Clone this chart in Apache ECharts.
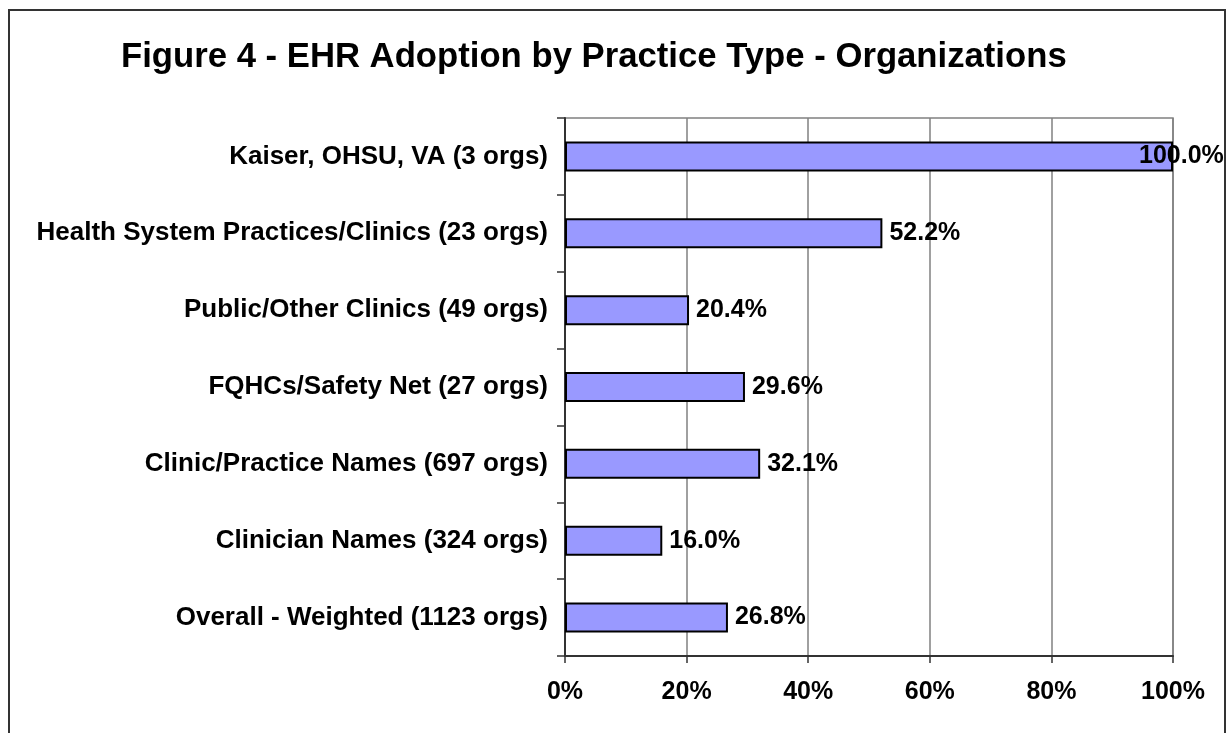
<!DOCTYPE html>
<html>
<head>
<meta charset="utf-8">
<script src="https://cdn.jsdelivr.net/npm/echarts@6/dist/echarts.min.js"></script>
<style>
  html, body { margin: 0; padding: 0; background: #fff; }
  #chart { width: 1228px; height: 733px; }
</style>
</head>
<body>
<div id="chart"></div>
<script>
// 数据
const categories = [
    'Kaiser, OHSU, VA (3 orgs)',
    'Health System Practices/Clinics (23 orgs)',
    'Public/Other Clinics (49 orgs)',
    'FQHCs/Safety Net (27 orgs)',
    'Clinic/Practice Names (697 orgs)',
    'Clinician Names (324 orgs)',
    'Overall - Weighted (1123 orgs)'
];
const adoption = [100.0, 52.2, 20.4, 29.6, 32.1, 16.0, 26.8];
const xTicks = [0, 20, 40, 60, 80, 100];

const myChart = echarts.init(document.getElementById('chart'));

const font = '"Liberation Sans", Arial, sans-serif';

const option = {
    animation: false,
    backgroundColor: '#fff',
    title: {
        text: 'Figure 4 - EHR Adoption by Practice Type - Organizations',
        left: 116,
        top: 35,
        textStyle: { fontFamily: font, fontSize: 34.7, fontWeight: 'bold', color: '#000' }
    },
    graphic: [{
        type: 'rect',
        shape: { x: 9, y: 10, width: 1216, height: 800 },
        style: { fill: 'none', stroke: '#333', lineWidth: 2 },
        silent: true
    }, {
        // 绘图区边框
        type: 'rect',
        shape: { x: 565, y: 118, width: 608, height: 538 },
        style: { fill: 'none', stroke: '#808080', lineWidth: 1.5 },
        silent: true,
        z: -1
    }],
    grid: { left: 565, top: 118, right: 55, bottom: 77 },
    xAxis: {
        type: 'value',
        min: xTicks[0],
        max: xTicks[xTicks.length - 1],
        interval: 20,
        axisLine: { show: true, lineStyle: { color: '#333', width: 2 } },
        axisTick: { show: true, length: 7, lineStyle: { color: '#333', width: 1.5 } },
        splitLine: { show: true, lineStyle: { color: '#808080', width: 1.5 } },
        axisLabel: {
            formatter: '{value}%',
            margin: 24,
            fontFamily: font, fontSize: 25, fontWeight: 'bold', color: '#000'
        }
    },
    yAxis: {
        type: 'category',
        data: categories,
        inverse: true,
        axisLine: { show: true, lineStyle: { color: '#333', width: 2 } },
        axisTick: { show: true, length: 8, lineStyle: { color: '#333', width: 1.5 } },
        axisLabel: {
            margin: 17,
            fontFamily: font, fontSize: 26, fontWeight: 'bold', color: '#000'
        }
    },
    series: [{
        type: 'bar',
        data: adoption.map((v, i) => i === 0
            ? { value: v, label: { offset: [-41, 0] } }
            : v),
        barCategoryGap: '61%',
        itemStyle: { color: '#9999FF', borderColor: '#000', borderWidth: 2 },
        label: {
            show: true,
            position: 'right',
            distance: 7,
            formatter: p => p.value.toFixed(1) + '%',
            fontFamily: font, fontSize: 25, fontWeight: 'bold', color: '#000'
        }
    }]
};

myChart.setOption(option);
</script>
</body>
</html>
